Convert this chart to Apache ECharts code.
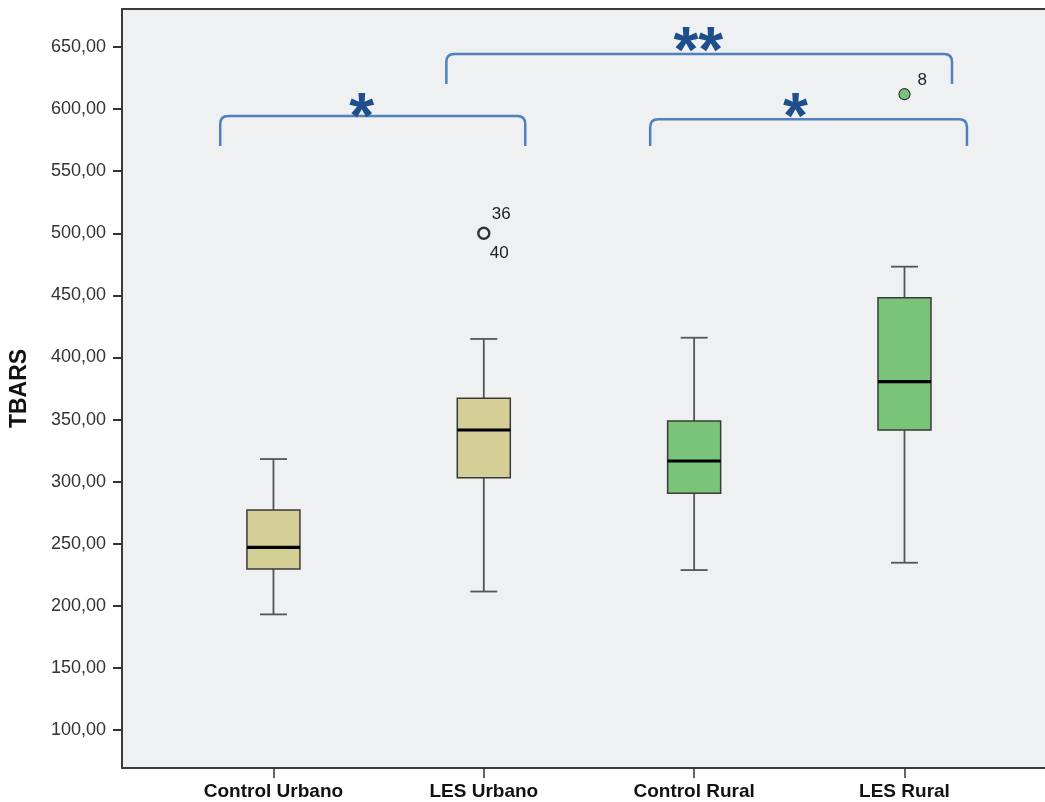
<!DOCTYPE html>
<html><head><meta charset="utf-8">
<script src="https://cdn.jsdelivr.net/npm/echarts@6/dist/echarts.min.js"></script>
<style>html,body{margin:0;padding:0;background:#fff}#c{width:1045px;height:802px}</style>
</head><body><div id="c"></div>
<script>
// ---- data ----
const categories = ['Control Urbano', 'LES Urbano', 'Control Rural', 'LES Rural'];
const whiskerLow  = [193.1, 211.5, 228.8, 234.7];
const q1          = [229.6, 303.2, 290.6, 341.6];
const median      = [247.1, 341.6, 316.6, 380.5];
const q3          = [277.2, 367.1, 348.8, 448.1];
const whiskerHigh = [318.2, 414.9, 415.9, 473.1];
const boxColors   = ['#d3cf96', '#d3cf96', '#7ac47a', '#7ac47a'];

const outlierCategory   = [2, 4];
const outlierValue      = [500, 612];
const outlierLabelAbove = ['36', '8'];
const outlierLabelBelow = ['40', ''];
const outlierFill       = ['#eff0f2', '#7ac47a'];

const yTicks = [100, 150, 200, 250, 300, 350, 400, 450, 500, 550, 600, 650];

// significance brackets (x in category units, y in TBARS units)
const bracketFrom  = [0.747, 1.822, 2.791];
const bracketTo    = [2.197, 4.226, 4.297];
const bracketTop   = [594.4, 644.4, 591.8];
const bracketEnd   = [570.3, 620.2, 570.3];
const bracketStars = ['*', '**', '*'];
const starX        = [1.419, 3.020, 3.482];
const starY        = [602.5, 655.1, 602.5];

// ---- build ----
const FONT = '"Liberation Sans", Arial, sans-serif';
const boxData = categories.map((c, i) => [i + 1, whiskerLow[i], q1[i], median[i], q3[i], whiskerHigh[i]]);
const outData = outlierCategory.map((c, i) => [c, outlierValue[i]]);
const brData = bracketFrom.map((f, i) => [f, bracketTo[i], bracketTop[i], bracketEnd[i]]);
const starData = starX.map((x, i) => [x, starY[i]]);

function renderBox(params, api) {
  const x = api.value(0);
  const pLow = api.coord([x, api.value(1)]);
  const pQ1 = api.coord([x, api.value(2)]);
  const pMed = api.coord([x, api.value(3)]);
  const pQ3 = api.coord([x, api.value(4)]);
  const pHigh = api.coord([x, api.value(5)]);
  const cx = pLow[0];
  const hw = 26.5, cw = 13.5;
  const wStyle = { stroke: '#555', lineWidth: 1.8 };
  return {
    type: 'group', children: [
      { type: 'line', shape: { x1: cx, y1: pLow[1], x2: cx, y2: pQ1[1] }, style: wStyle },
      { type: 'line', shape: { x1: cx, y1: pQ3[1], x2: cx, y2: pHigh[1] }, style: wStyle },
      { type: 'line', shape: { x1: cx - cw, y1: pLow[1], x2: cx + cw, y2: pLow[1] }, style: wStyle },
      { type: 'line', shape: { x1: cx - cw, y1: pHigh[1], x2: cx + cw, y2: pHigh[1] }, style: wStyle },
      { type: 'rect', shape: { x: cx - hw, y: pQ3[1], width: 2 * hw, height: pQ1[1] - pQ3[1] },
        style: { fill: boxColors[params.dataIndex], stroke: '#3a3a3a', lineWidth: 1.5 } },
      { type: 'line', shape: { x1: cx - hw, y1: pMed[1], x2: cx + hw, y2: pMed[1] },
        style: { stroke: '#000', lineWidth: 3.2 } }
    ]
  };
}

function renderOutlier(params, api) {
  const i = params.dataIndex;
  const p = api.coord([api.value(0), api.value(1)]);
  const tStyle = { fill: '#222', font: '17px ' + FONT, textAlign: 'left', textVerticalAlign: 'middle' };
  const children = [
    { type: 'circle', shape: { cx: p[0], cy: p[1], r: 5.5 },
      style: { fill: outlierFill[i], stroke: '#333', lineWidth: i === 0 ? 2.4 : 1.2 } }
  ];
  if (outlierLabelAbove[i]) {
    children.push({ type: 'text', x: p[0] + (i === 0 ? 8 : 13), y: p[1] - (i === 0 ? 19 : 14),
      style: Object.assign({ text: outlierLabelAbove[i] }, tStyle) });
  }
  if (outlierLabelBelow[i]) {
    children.push({ type: 'text', x: p[0] + 6, y: p[1] + 20,
      style: Object.assign({ text: outlierLabelBelow[i] }, tStyle) });
  }
  return { type: 'group', children };
}

function renderBracket(params, api) {
  const a = api.coord([api.value(0), api.value(3)]);
  const b = api.coord([api.value(0), api.value(2)]);
  const c = api.coord([api.value(1), api.value(2)]);
  const d = api.coord([api.value(1), api.value(3)]);
  const r = 8;
  const pd = 'M' + a[0] + ' ' + a[1] + ' L' + b[0] + ' ' + (b[1] + r) +
    ' Q' + b[0] + ' ' + b[1] + ' ' + (b[0] + r) + ' ' + b[1] +
    ' L' + (c[0] - r) + ' ' + c[1] +
    ' Q' + c[0] + ' ' + c[1] + ' ' + c[0] + ' ' + (c[1] + r) +
    ' L' + d[0] + ' ' + d[1];
  return { type: 'path', shape: { pathData: pd },
    style: { stroke: '#4f81bd', lineWidth: 2.5, fill: null } };
}

function renderStar(params, api) {
  const p = api.coord([api.value(0), api.value(1)]);
  const fs = 64;
  return { type: 'text', x: p[0], y: p[1] + 0.22 * fs,
    style: { text: bracketStars[params.dataIndex], fill: '#1f4e8c',
      font: 'bold ' + fs + 'px ' + FONT, textAlign: 'center', textVerticalAlign: 'middle' } };
}

const axisLineStyle = { color: '#3a3a3a', width: 2 };
const chart = echarts.init(document.getElementById('c'), null, { renderer: 'canvas' });
chart.setOption({
  animation: false,
  backgroundColor: '#ffffff',
  grid: { left: 120, right: 0, top: 9, bottom: 34, show: true,
    backgroundColor: '#eff0f2', borderWidth: 0 },
  xAxis: [{
    type: 'value', min: 0.28, max: 4.668, position: 'bottom',
    splitLine: { show: false },
    axisLine: { show: true, onZero: false, lineStyle: axisLineStyle },
    axisTick: { show: true, customValues: [1, 2, 3, 4], length: 10, lineStyle: { color: '#333', width: 1.5 } },
    axisLabel: { customValues: [1, 2, 3, 4], margin: 14,
      formatter: v => categories[Math.round(v) - 1],
      color: '#111', fontWeight: 'bold', fontSize: 19, fontFamily: FONT }
  }, {
    type: 'value', min: 0.28, max: 4.668, position: 'top',
    splitLine: { show: false },
    axisLine: { show: true, onZero: false, lineStyle: axisLineStyle },
    axisTick: { show: false }, axisLabel: { show: false }
  }],
  yAxis: {
    type: 'value', min: 69.4, max: 680.6,
    name: 'TBARS', nameLocation: 'middle', nameGap: 91, nameRotate: 90,
    nameTextStyle: { fontWeight: 'bold', fontSize: 23, color: '#111', fontFamily: FONT },
    splitLine: { show: false },
    axisLine: { show: true, onZero: false, lineStyle: axisLineStyle },
    axisTick: { show: true, customValues: yTicks, length: 9, lineStyle: { color: '#333', width: 2 } },
    axisLabel: { customValues: yTicks, margin: 16,
      formatter: v => v.toFixed(2).replace('.', ','),
      color: '#333', fontSize: 18, fontFamily: FONT }
  },
  series: [
    { type: 'custom', name: 'box', renderItem: renderBox, data: boxData,
      encode: { x: 0, y: [1, 2, 3, 4, 5] }, silent: true },
    { type: 'custom', name: 'outliers', renderItem: renderOutlier, data: outData,
      encode: { x: 0, y: 1 }, silent: true },
    { type: 'custom', name: 'brackets', renderItem: renderBracket, data: brData,
      encode: { x: [0, 1], y: [2, 3] }, silent: true },
    { type: 'custom', name: 'stars', renderItem: renderStar, data: starData,
      encode: { x: 0, y: 1 }, silent: true }
  ]
});
</script>
</body></html>
